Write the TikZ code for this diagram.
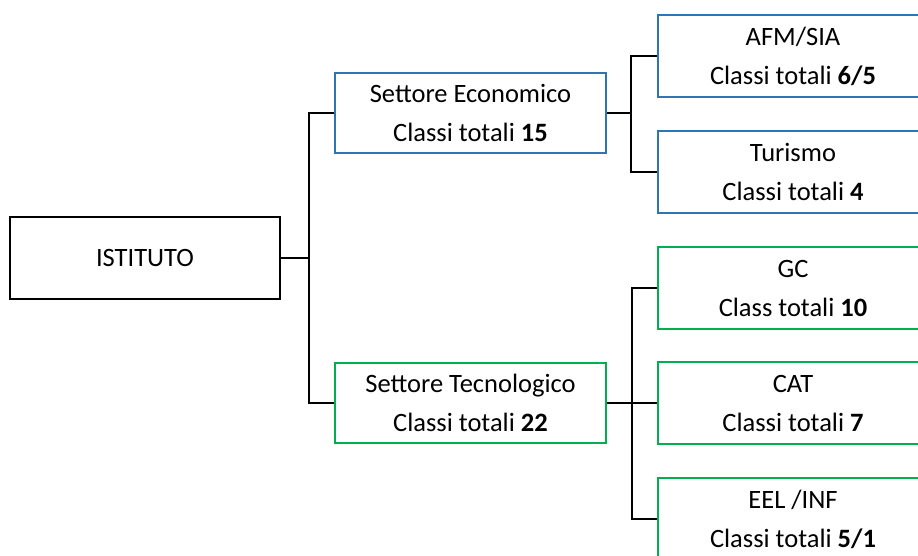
\documentclass[tikz,border=0pt]{standalone}
\usepackage{fontspec}
\setmainfont{Carlito}
\usetikzlibrary{positioning}
\definecolor{econc}{HTML}{2E75B6}
\definecolor{tecnc}{HTML}{00B050}
\tikzset{
  box/.style={draw,line width=2.2pt,fill=white,align=center,
    minimum width=270pt,minimum height=82pt,inner sep=0pt,
    font=\fontsize{26.5}{39}\selectfont},
  econbox/.style={box,draw=econc},
  tecnbox/.style={box,draw=tecnc},
  link/.style={draw=black,line width=2.2pt}
}
\begin{document}
\begin{tikzpicture}[x=1pt,y=-1pt]
  \clip (0,0) rectangle (918,555);
  \fill[white] (0,0) rectangle (918,555);
  % main box
  \node[box,draw=black] (istituto) at (145,258) {ISTITUTO};
  % sectors
  \node[econbox,minimum width=271pt,minimum height=80pt] (economico) at (470.5,113)
    {Settore Economico\\Classi totali \textbf{15}};
  \node[tecnbox,minimum width=271pt,minimum height=80pt] (tecnologico) at (470.5,403)
    {Settore Tecnologico\\Classi totali \textbf{22}};
  % courses
  \node[econbox] (afm) at (793,56) {AFM/SIA\\Classi totali \textbf{6/5}};
  \node[econbox] (turismo) at (793,172) {Turismo\\Classi totali \textbf{4}};
  \node[tecnbox] (gc) at (793,288) {GC\\Class totali \textbf{10}};
  \node[tecnbox] (cat) at (793,403) {CAT\\Classi totali \textbf{7}};
  \node[tecnbox] (eel) at (793,519) {EEL /INF\\Classi totali \textbf{5/1}};
  % connectors
  \coordinate (j0) at (309,258);
  \coordinate (j1) at (631,113);
  \coordinate (j2) at (632,403);
  \draw[link] (istituto.east) -- (j0);
  \draw[link] (j0) |- (economico.west);
  \draw[link] (j0) |- (tecnologico.west);
  \draw[link] (economico.east) -- (j1);
  \draw[link] (j1) |- (afm.west);
  \draw[link] (j1) |- (turismo.west);
  \draw[link] (tecnologico.east) -- (j2);
  \draw[link] (j2) |- (gc.west);
  \draw[link] (j2) |- (cat.west);
  \draw[link] (j2) |- (eel.west);
\end{tikzpicture}
\end{document}
